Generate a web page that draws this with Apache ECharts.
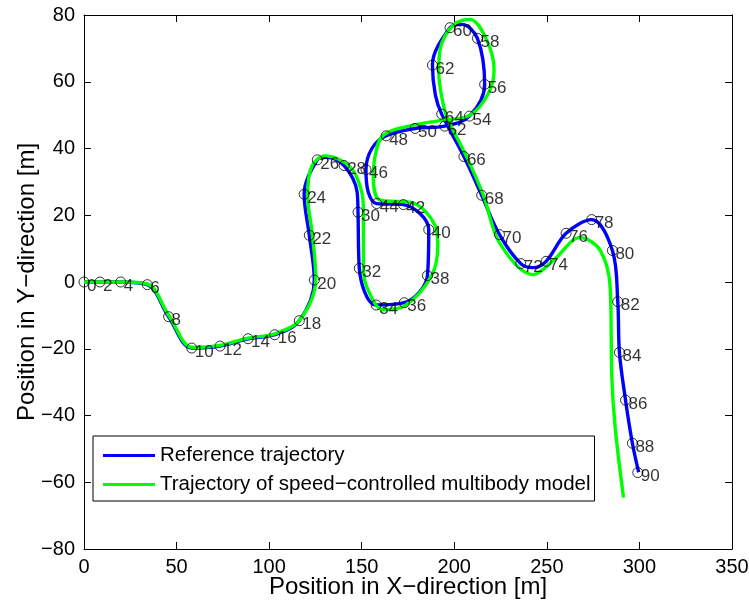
<!DOCTYPE html>
<html>
<head>
<meta charset="utf-8">
<script src="https://cdn.jsdelivr.net/npm/echarts@6/dist/echarts.min.js"></script>
<style>html,body{margin:0;padding:0;background:#fff}#c{width:749px;height:605px}</style>
</head>
<body>
<div id="c"></div>
<script>
// Reference trajectory (blue)
const refPath = [[0,0],[8.6,0],[19.8,0],[34.2,-0.8],[45.7,-10.4],[58.2,-19.8],[73.5,-19.2],[88.6,-17],[103,-15.8],[116.3,-11.6],[124.4,0.6],[121.7,14],[118.9,26.3],[126,36.6],[131,37.4],[140.5,34.9],[147.5,27],[148,20.9],[148.7,4.1],[157.8,-6.9],[173,-6.2],[185.5,1.9],[186.2,15.7],[172.5,23.2],[158.1,23.5],[153.5,27],[152.3,33.7],[155.5,40],[163.2,43.8],[178.8,46],[194.8,46.7],[208.2,49.7],[216.4,59.2],[212.5,73],[204,77.2],[197.7,76.2],[188.2,65],[189.8,56],[193.2,50.3],[205.2,37.6],[214.8,26],[224.4,14.2],[235.9,5.5],[242.5,4.3],[249.6,6.2],[260.4,14.6],[274.2,18.7],[285.4,9.45],[288.3,-5.9],[289.2,-21.1],[292.5,-35.4],[296.2,-48.3],[299.6,-57]];
// Trajectory of the speed-controlled multibody model (green)
const simPath = [[0,0],[8.6,0],[19.8,0],[34.2,-0.6],[46,-10.2],[58.6,-19.6],[73.5,-19],[88.6,-16.8],[103.2,-15.5],[116.8,-11.2],[125.2,1],[123.4,14],[120.8,26],[123,34.6],[130.2,37.8],[143.7,34.5],[150,27],[150.9,21],[150.9,5],[152.7,-1.4],[161.7,-8.3],[173.4,-7.1],[187.8,2],[191.1,11],[189.6,17],[177,23.8],[160,24.5],[156.3,31],[157,37],[161.7,44],[177.9,47],[194.1,48.5],[208.5,50],[218.4,56.5],[221.5,63.5],[217.5,72.5],[208.5,78.7],[199.5,77],[192.3,69.5],[191.6,63],[193.2,55.5],[196,49.5],[206.7,37.5],[215.7,26],[224.7,11.5],[242.7,2.2],[253.6,6.5],[268,13.3],[278.8,9.5],[284.2,-1.6],[285.1,-28.6],[286.9,-43.6],[291.4,-64.6]];
// Time markers on the reference trajectory
const markerX = [0,8.6,19.8,34.2,45.7,58.2,73.5,88.6,103,116.3,124.4,121.7,118.9,126,140.5,148,148.7,157.8,173,185.5,186.2,172.5,158.1,152.3,163.2,178.8,194.8,208.2,216.4,212.5,197.7,188.2,193.2,205.2,214.8,224.4,235.9,249.6,260.4,274.2,285.4,288.3,289.2,292.5,296.2,299.1];
const markerY = [0,0,0,-0.8,-10.4,-19.8,-19.2,-17,-15.8,-11.6,0.6,14,26.3,36.6,34.9,20.9,4.1,-6.9,-6.2,1.9,15.7,23.2,23.5,33.7,43.8,46,46.7,49.7,59.2,73,76.2,65,50.3,37.6,26,14.2,5.5,6.2,14.6,18.7,9.45,-5.9,-21.1,-35.4,-48.3,-57.1];
const markerLabels = ['0','2','4','6','8','10','12','14','16','18','20','22','24','26','28','30','32','34','36','38','40','42','44','46','48','50','52','54','56','58','60','62','64','66','68','70','72','74','76','78','80','82','84','86','88','90'];
const seriesNames = ['Reference trajectory','Trajectory of speed\u2212controlled multibody model'];

const FONT = '"Liberation Sans", Arial, Helvetica, sans-serif';
const fmt = v => String(v).replace('-', '\u2212');
const chart = echarts.init(document.getElementById('c'), null, {renderer:'canvas'});
const axBase = {
  type:'value',
  axisLine:{show:true, onZero:false, lineStyle:{color:'#000', width:1}},
  axisTick:{show:true, inside:true, length:7, lineStyle:{color:'#000', width:1}},
  splitLine:{show:false}
};
chart.setOption({
  animation:false,
  backgroundColor:'#fff',
  grid:{left:84, right:17, top:15, bottom:56, containLabel:false, outerBoundsMode:'none'},
  xAxis:[
    Object.assign({}, axBase, {position:'bottom', min:0, max:350, interval:50,
      axisLabel:{color:'#000', fontSize:20, fontFamily:FONT, margin:8, formatter:fmt},
      name:'Position in X\u2212direction [m]', nameLocation:'middle', nameGap:38, nameMoveOverlap:false,
      nameTextStyle:{color:'#000', fontSize:24, fontFamily:FONT, verticalAlign:'middle'}}),
    Object.assign({}, axBase, {position:'top', min:0, max:350, interval:50, axisLabel:{show:false}})
  ],
  yAxis:[
    Object.assign({}, axBase, {position:'left', min:-80, max:80, interval:20,
      axisLabel:{color:'#000', fontSize:20, fontFamily:FONT, margin:9, formatter:fmt},
      name:'Position in Y\u2212direction [m]', nameLocation:'middle', nameGap:57, nameRotate:90, nameMoveOverlap:false,
      nameTextStyle:{color:'#000', fontSize:24, fontFamily:FONT, verticalAlign:'middle'}}),
    Object.assign({}, axBase, {position:'right', min:-80, max:80, interval:20, axisLabel:{show:false}})
  ],
  legend:{
    data:seriesNames, orient:'vertical', left:93, top:436,
    backgroundColor:'#fff', borderColor:'#000', borderWidth:1, borderRadius:0,
    padding:[9,4,6,10], itemGap:8, itemWidth:52, itemHeight:3, icon:'rect',
    textStyle:{color:'#000', fontSize:20.5, fontFamily:FONT, lineHeight:20}
  },
  series:[
    {name:seriesNames[0], type:'line', data:refPath, smooth:0.35, showSymbol:false, symbol:'none',
     lineStyle:{color:'#0000ff', width:3.4}, itemStyle:{color:'#0000ff'}, z:2},
    {name:seriesNames[1], type:'line', data:simPath, smooth:0.35, showSymbol:false, symbol:'none',
     lineStyle:{color:'#00ff00', width:3.4}, itemStyle:{color:'#00ff00'}, z:3},
    {name:'markers', type:'scatter', z:4,
     data:markerX.map((x,i)=>({value:[x, markerY[i]]})),
     symbol:'circle', symbolSize:10,
     itemStyle:{color:'rgba(0,0,0,0)', borderColor:'#000', borderWidth:1},
     label:{show:true, position:'inside', align:'left', verticalAlign:'middle', offset:[3,4],
       color:'#000', fontSize:17, fontFamily:FONT,
       formatter:p=>markerLabels[p.dataIndex]},
     silent:true}
  ]
});
</script>
</body>
</html>
